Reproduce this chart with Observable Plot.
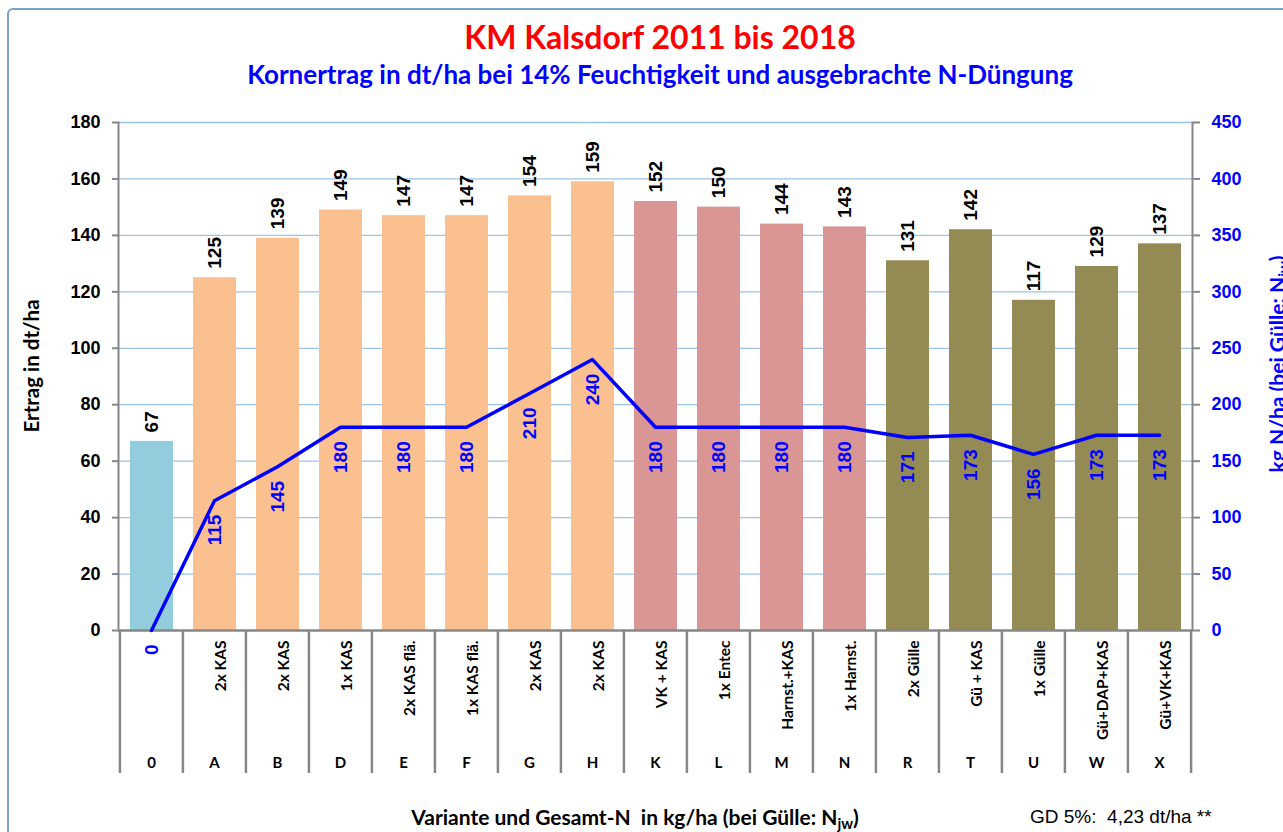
<!DOCTYPE html>
<html><head><meta charset="utf-8">
<script src="https://cdn.jsdelivr.net/npm/d3@7"></script>
<script src="https://cdn.jsdelivr.net/npm/@observablehq/plot@0.6"></script>
<style>
html,body{margin:0;padding:0;background:#fff;overflow:hidden;width:1283px;height:832px}
#wrap{position:relative;width:1283px;height:832px;overflow:hidden;background:#fff}
#border{position:absolute;left:7px;top:8px;width:1400px;height:1000px;border:2px solid #7d9fd0;border-radius:6px;box-sizing:border-box}
.abs{position:absolute;white-space:nowrap;line-height:1}
#title{left:660px;top:17px;transform:translateX(-50%);font:bold 32px Lato, sans-serif;color:#ff0000}
#subtitle{left:660px;top:58px;transform:translateX(-50%);font:bold 26px Lato, sans-serif;color:#0000ff}
#ylab{left:31px;top:366px;transform:translate(-50%,-50%) rotate(-90deg);font:bold 20.5px Lato, sans-serif;color:#000}
#y2lab{left:1276px;top:364px;transform:translate(-50%,-50%) rotate(-90deg);font:bold 21px Lato, sans-serif;color:#0000ff}
#xlab{left:635px;top:804px;transform:translateX(-50%);font:bold 21px Lato, sans-serif;color:#000}
#gd{left:1030px;top:806px;font:19px "Liberation Sans", Arial, sans-serif;color:#000}
sub{font-size:0.7em;vertical-align:-0.3em;line-height:0}
.layer{position:absolute;left:0}
.layer svg{max-width:none;background:transparent;overflow:visible}
</style></head><body><div id="wrap">
<div id="border"></div>
<div id="c1" class="layer" style="top:0"></div>
<div id="c3" class="layer" style="top:630px"></div>
<div id="c2" class="layer" style="top:0"></div>
<div id="title" class="abs">KM Kalsdorf 2011 bis 2018</div>
<div id="subtitle" class="abs">Kornertrag in dt/ha bei 14% Feuchtigkeit und ausgebrachte N-Düngung</div>
<div id="ylab" class="abs">Ertrag in dt/ha</div>
<div id="y2lab" class="abs">kg N/ha (bei Gülle: N<sub>jw</sub>)</div>
<div id="xlab" class="abs">Variante und Gesamt-N&nbsp; in kg/ha (bei Gülle: N<sub>jw</sub>)</div>
<div id="gd" class="abs">GD 5%:&nbsp; 4,23 dt/ha **</div>
</div>
<script>
const codes = ["0","A","B","D","E","F","G","H","K","L","M","N","R","T","U","W","X"];
const names = ["","2x KAS","2x KAS","1x KAS","2x KAS flä.","1x KAS flä.","2x KAS","2x KAS","VK + KAS","1x Entec","Harnst.+KAS","1x Harnst.","2x Gülle","Gü + KAS","1x Gülle","Gü+DAP+KAS","Gü+VK+KAS"];
const yields = [67,125,139,149,147,147,154,159,152,150,144,143,131,142,117,129,137];
const nitrogen = [0,115,145,180,180,180,210,240,180,180,180,180,171,173,156,173,173];
const groups = ["Kontrolle","KAS","KAS","KAS","KAS","KAS","KAS","KAS","N-Dünger","N-Dünger","N-Dünger","N-Dünger","Gülle","Gülle","Gülle","Gülle","Gülle"];
const groupNames = ["Kontrolle","KAS","N-Dünger","Gülle"];
const groupColors = ["#93cddd","#fac090","#d99694","#948a54"];
const leftTicks = [0,20,40,60,80,100,120,140,160,180];
const rightTicks = [0,50,100,150,200,250,300,350,400,450];

const data = codes.map((c,i)=>({code:c,name:names[i],yield:yields[i],n:nitrogen[i],group:groups[i]}));
const W = 1283, H = 832, mL = 118, mR = 91, mT = 122, mB = 202;
const step = (W - mL - mR)/codes.length;
const grey = "#878787";
const numFont = "'Liberation Sans', Arial, sans-serif";
const xOpts = {domain:codes, paddingInner:0.32, paddingOuter:0.16, axis:null, label:null};

// Layer 1: bars, grid, left axis
const c1 = Plot.plot({
  width:W, height:H, marginLeft:mL, marginRight:mR, marginTop:mT, marginBottom:mB,
  style:{fontFamily:numFont, background:"transparent", overflow:"visible", color:"#000"},
  x:xOpts,
  y:{domain:[0,180], label:null},
  color:{domain:groupNames, range:groupColors},
  marks:[
    Plot.ruleY(leftTicks.filter(d => d > 0), {stroke:"#9dc3e6", strokeWidth:1.3}),
    Plot.barY(data, {x:"code", y:"yield", fill:"group"}),
    Plot.axisY(leftTicks, {anchor:"left", tickSize:6, tickPadding:12, stroke:grey, strokeWidth:2, fill:"#000",
      fontSize:18, fontWeight:"bold", fontFamily:numFont, label:null}),
    Plot.frame({anchor:"left", stroke:grey, strokeWidth:2}),
    Plot.ruleY([0], {stroke:grey, strokeWidth:2.5}),
    Plot.text(data, {x:"code", y:"yield", text: d => String(d.yield), rotate:-90, textAnchor:"start", dy:-9,
      fontSize:19, fontFamily:numFont, fontWeight:"bold", fill:"#000"})
  ]
});
document.getElementById("c1").appendChild(c1);

// Layer 3: category table below the plot
const c3 = Plot.plot({
  width:W, height:143, marginLeft:mL, marginRight:mR, marginTop:0, marginBottom:0,
  style:{fontFamily:"Lato, sans-serif", background:"transparent", overflow:"visible", color:"#000"},
  x:xOpts,
  marks:[
    Plot.ruleX(codes, {x: d => d, dx:-step/2, stroke:grey, strokeWidth:2.5}),
    Plot.ruleX(codes.slice(-1), {x: d => d, dx:step/2, stroke:grey, strokeWidth:2.5}),
    Plot.text(data, {x:"code", text:"name", frameAnchor:"top", rotate:-90, textAnchor:"end", dy:10,
      fontFamily:"Lato, sans-serif", fontWeight:"bold", fontSize:15.5, fill:"#000"}),
    Plot.text(data, {x:"code", text:"code", frameAnchor:"bottom", dy:-6,
      fontFamily:"Lato, sans-serif", fontWeight:"bold", fontSize:15, fill:"#000"})
  ]
});
document.getElementById("c3").appendChild(c3);

// Layer 2: nitrogen line on its own right axis (0..450)
const c2 = Plot.plot({
  width:W, height:H, marginLeft:mL, marginRight:mR, marginTop:mT, marginBottom:mB,
  style:{fontFamily:numFont, background:"transparent", overflow:"visible", color:"#0000ff"},
  x:xOpts,
  y:{domain:[0,450], label:null},
  marks:[
    Plot.axisY(rightTicks, {anchor:"right", tickSize:7, tickPadding:12, stroke:grey, strokeWidth:2, fill:"#0000ff",
      fontSize:18, fontWeight:"bold", fontFamily:numFont, label:null}),
    Plot.frame({anchor:"right", stroke:grey, strokeWidth:2}),
    Plot.lineY(data, {x:"code", y:"n", stroke:"#0000ff", strokeWidth:3.5}),
    Plot.text(data, {x:"code", y:"n", text: d => String(d.n), rotate:-90, textAnchor:"end", dy:14,
      fontSize:19, fontFamily:numFont, fontWeight:"bold", fill:"#0000ff"})
  ]
});
document.getElementById("c2").appendChild(c2);
</script>
</body></html>
